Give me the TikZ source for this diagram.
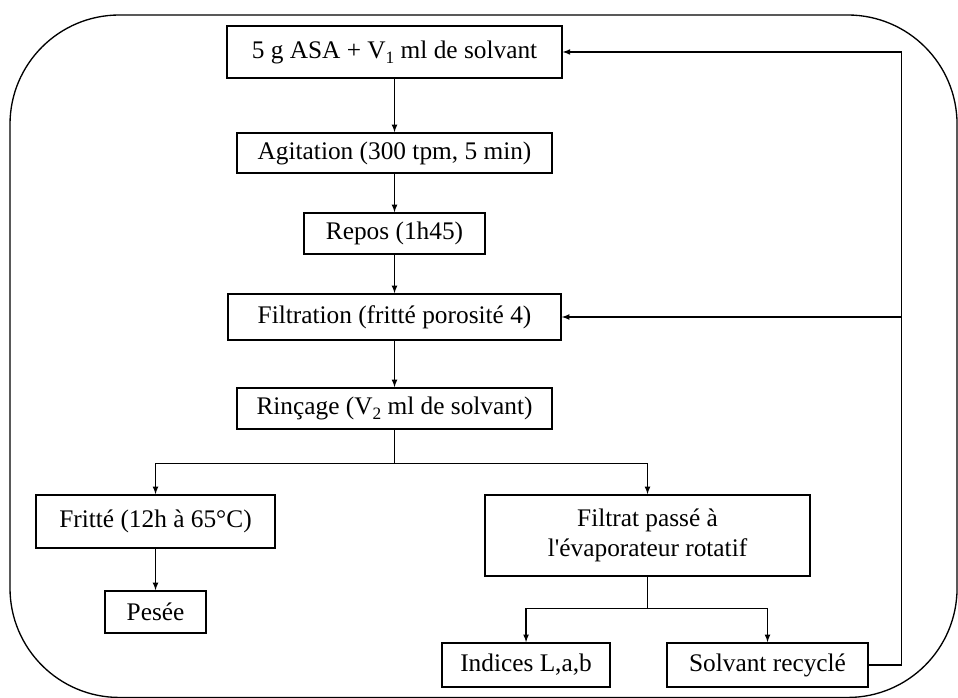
\documentclass[tikz,border=0pt]{standalone}
\usepackage{fontspec}
\setmainfont{Liberation Serif}[Ligatures=TeXOff]
\newcommand{\vsub}[1]{\raisebox{-0.45ex}{\fontsize{13}{13}\selectfont #1}}

\begin{document}
\begin{tikzpicture}[
    node distance=60pt,
    every node/.style={rectangle, draw=black, line width=1.2pt, inner sep=0pt, font=\fontsize{19}{22.5}\selectfont, align=center},
    arrow/.style={-latex, line width=0.95pt}
]
% frame round the whole protocol
\useasboundingbox (-295.9pt,39pt) rectangle (422.6pt,-484.5pt);
\draw[line width=1pt, rounded corners=82pt] (-288.4pt,27.75pt) rectangle (421.9pt,-484.1pt);

\node (mix) [minimum width=251pt, minimum height=39pt] {5 g ASA + V\vsub{1} ml de solvant};
\node (agit) [node distance=75.75pt, below of=mix, minimum width=236pt, minimum height=30pt] {Agitation (300 tpm, 5 min)};
\node (repos) [node distance=60.4pt, below of=agit, minimum width=135.75pt, minimum height=30.75pt] {Repos (1h45)};
\node (filt) [node distance=62.6pt, below of=repos, minimum width=249.75pt, minimum height=34.5pt] {Filtration (fritté porosité 4)};
\node (rinc) [node distance=68.6pt, below of=filt, minimum width=236.25pt, minimum height=30.75pt] {Rinçage (V\vsub{2} ml de solvant)};
\node (fritte) [node distance=84.75pt, below of=rinc, xshift=-179.25pt, minimum width=179.25pt, minimum height=39.75pt] {Fritté (12h à 65°C)};
\node (filtrat) [node distance=95.25pt, below of=rinc, xshift=189.75pt, minimum width=243.75pt, minimum height=60.75pt] {Filtrat passé à\\l'évaporateur rotatif};
\node (pesee) [node distance=67.9pt, below of=fritte, minimum width=75.75pt, minimum height=31.5pt] {Pesée};
\node (indices) [node distance=97.1pt, below of=filtrat, xshift=-91.1pt, minimum width=126pt, minimum height=33pt] {Indices L,a,b};
\node (solvant) [node distance=97.1pt, below of=filtrat, xshift=90pt, minimum width=150.75pt, minimum height=33pt] {Solvant recyclé};

\draw[arrow] (mix) -- (agit);
\draw[arrow] (agit) -- (repos);
\draw[arrow] (repos) -- (filt);
\draw[arrow] (filt) -- (rinc);
\draw[arrow] (rinc.south) -- ++(0,-25.5pt) -| (fritte);
\draw[arrow] (rinc.south) -- ++(0,-25.5pt) -| (filtrat);
\draw[arrow] (fritte) -- (pesee);
\draw[arrow] (filtrat.south) -- ++(0,-24pt) -| (indices);
\draw[arrow] (filtrat.south) -- ++(0,-24pt) -| (solvant);
% solvent goes back to the start and to the filtration
\draw[arrow] (solvant.east) -- ++(24.75pt,0) coordinate (back) |- (mix.east);
\draw[arrow] (back |- filt.east) -- (filt.east);
\end{tikzpicture}
\end{document}
